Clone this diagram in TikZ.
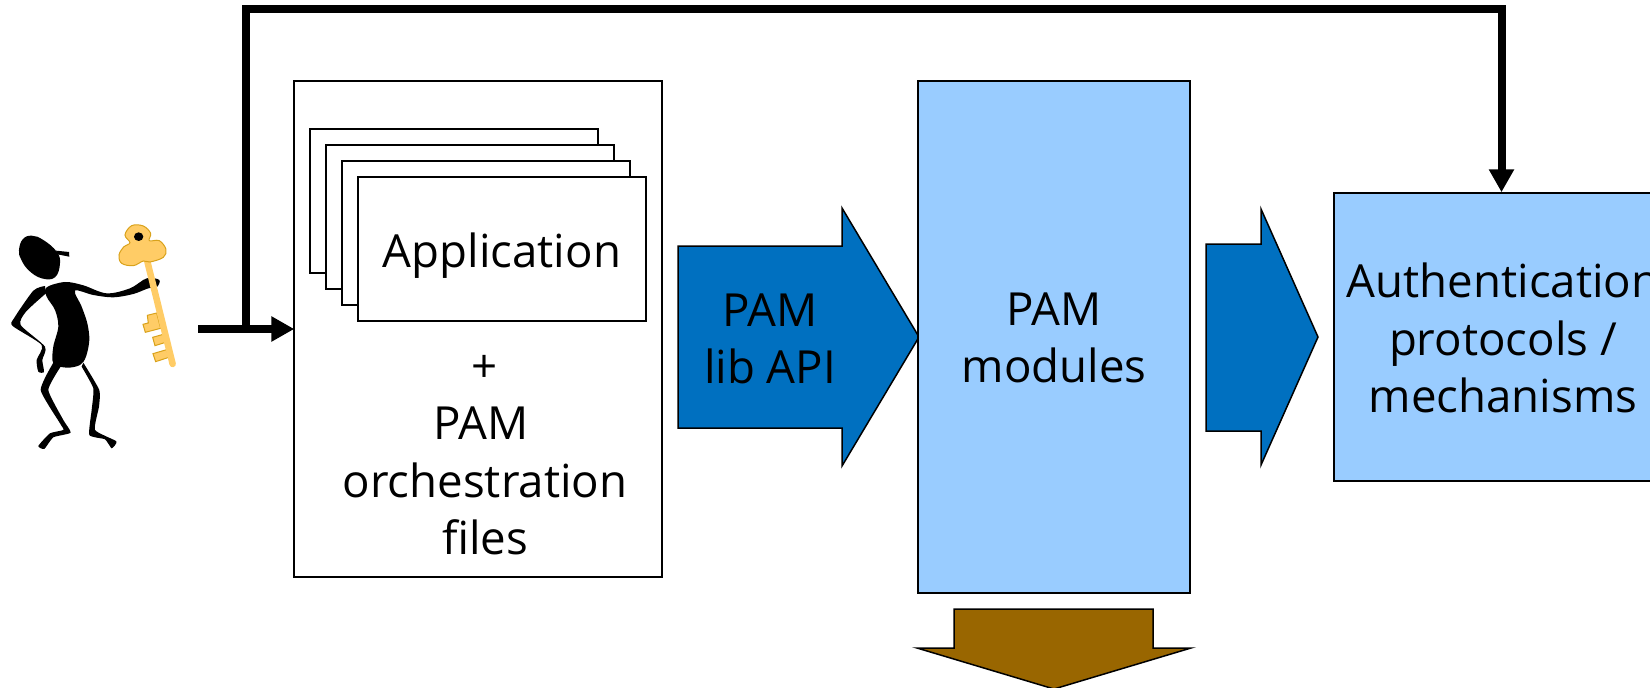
\documentclass[tikz,border=0pt]{standalone}
\usepackage{fontspec}
\setmainfont{Open Sans}
\usetikzlibrary{arrows.meta}
\definecolor{lightblue}{HTML}{99CCFF}
\definecolor{midblue}{HTML}{0070C0}
\definecolor{brownarrow}{HTML}{996600}
\definecolor{keygold}{HTML}{FFCC66}
\definecolor{keyedge}{HTML}{D9A21B}
\tikzset{
  box/.style={draw=black,line width=1.5pt,rectangle,minimum width=#1,inner sep=0pt},
  sheet/.style={draw=black,fill=white,line width=1.5pt,rectangle,minimum width=288pt,minimum height=144pt,inner sep=0pt},
  label/.style={align=center,inner sep=0pt,font=\fontsize{45.6}{57.5}\selectfont},
  blockarrow/.style={draw=black,line width=1.5pt,miter limit=10},
  flow/.style={line width=8pt,-{Triangle[length=23pt,width=24pt]}},
}
\begin{document}
\begin{tikzpicture}[x=1pt,y=-1pt]
\useasboundingbox (0,0) rectangle (1650,688);
% application container
\node[box=368pt,minimum height=496pt,fill=white] (outer) at (478,329) {};
\node[sheet] (s1) at (454,201) {};
\node[sheet] (s2) at (470,217) {};
\node[sheet] (s3) at (486,233) {};
\node[sheet] (s4) at (502,249) {};
\node[label] (applabel) at (502,256) {Application};
\node[label] (plus) at (485,369) {+};
\node[label] (orch) at (485,481) {PAM\kern8pt\\orchestration\\files};
% block arrows
\draw[blockarrow,fill=midblue] (678,246) -- (842,246) -- (842,208) -- (919,337) -- (842,466) -- (842,428) -- (678,428) -- cycle;
\draw[blockarrow,fill=midblue] (1206,244) -- (1261,244) -- (1261,209) -- (1318,337) -- (1261,465) -- (1261,431) -- (1206,431) -- cycle;
\draw[blockarrow,fill=brownarrow] (954,609) -- (1153,609) -- (1153,648) -- (1191,648) -- (1054,689) -- (917,648) -- (954,648) -- cycle;
\node[label] (libapi) at (770,339) {PAM\\lib API};
% boxes
\node[box=272pt,minimum height=512pt,fill=lightblue] (modules) at (1054,337) {};
\node[label] (modlabel) at (1054,338) {PAM\\modules};
\node[box=335pt,minimum height=288pt,fill=lightblue] (auth) at (1501.5,337) {};
\node[label] (authlabel) at (1503,338) {Authentication\\protocols /\\mechanisms};
% connectors
\coordinate (userend) at (198,329);
\coordinate (junction) at (245.7,329);
\coordinate (topline) at (245.7,8.5);
\draw[flow] (userend) -- ([xshift=1pt]outer.west |- userend);
\draw[flow] (junction) -- (topline) -| (auth.north);
% user figure
\begin{scope}[shift={(0,200)},x=0.3333pt,y=-0.3333pt]
  % head
  \fill[black] plot[smooth cycle,tension=0.7] coordinates {(57,150) (68,118) (95,107) (130,120) (170,155) (180,190) (165,232) (125,235) (85,210) (62,175)};
  \fill[black] (168,152) -- (207,156) -- (208,170) -- (172,163) -- cycle;
  % torso and arm
  \fill[black] plot[smooth cycle,tension=0.55] coordinates {(140,262) (195,246) (250,256) (320,280) (390,265) (440,235) (478,240) (470,262) (445,265) (400,282) (340,292) (280,285) (225,272) (245,320) (262,370) (268,420) (258,470) (240,495) (200,503) (160,490) (160,440) (175,380) (165,330) (140,290)};
  % back arm
  \fill[black] plot[smooth,tension=0.4] coordinates {(135,258) (100,272) (42,355) (38,378) (125,435) (110,480) (115,515) (132,516) (127,480) (135,440) (62,375) (78,335) (138,280)} -- cycle;
  % legs
  \fill[black] plot[smooth,tension=0.3] coordinates {(160,488) (122,570) (180,670) (190,690) (150,700) (115,738) (133,747) (160,712) (212,698) (190,660) (145,570) (182,500)} -- cycle;
  \fill[black] plot[smooth,tension=0.3] coordinates {(250,488) (298,570) (297,620) (285,690) (349,724) (335,745) (315,718) (268,705) (275,630) (280,565) (245,500)} -- cycle;
  % key teeth
  \fill[keygold,draw=keyedge,line width=1pt] (429,373) -- (445,369) -- (442,346) -- (470,339) -- (482,385) -- (436,397) -- cycle;
  \fill[keygold,draw=keyedge,line width=1pt] (458,412) -- (490,403) -- (497,427) -- (465,437) -- cycle;
  \fill[keygold,draw=keyedge,line width=1pt] (459,461) -- (500,449) -- (507,472) -- (467,485) -- cycle;
  % key shaft
  \draw[keygold,line width=6.5pt,line cap=round] (441,180) -- (518,492);
  % key bow
  \fill[keygold,draw=keyedge,line width=1pt] plot[smooth cycle,tension=0.6] coordinates {(375,105) (395,77) (430,78) (452,100) (448,122) (478,122) (498,148) (490,172) (450,186) (430,183) (400,197) (365,190) (357,165) (372,140) (390,128)};
  \fill[black] (416,110) circle[x radius=14,y radius=13];
\end{scope}
\end{tikzpicture}
\end{document}
